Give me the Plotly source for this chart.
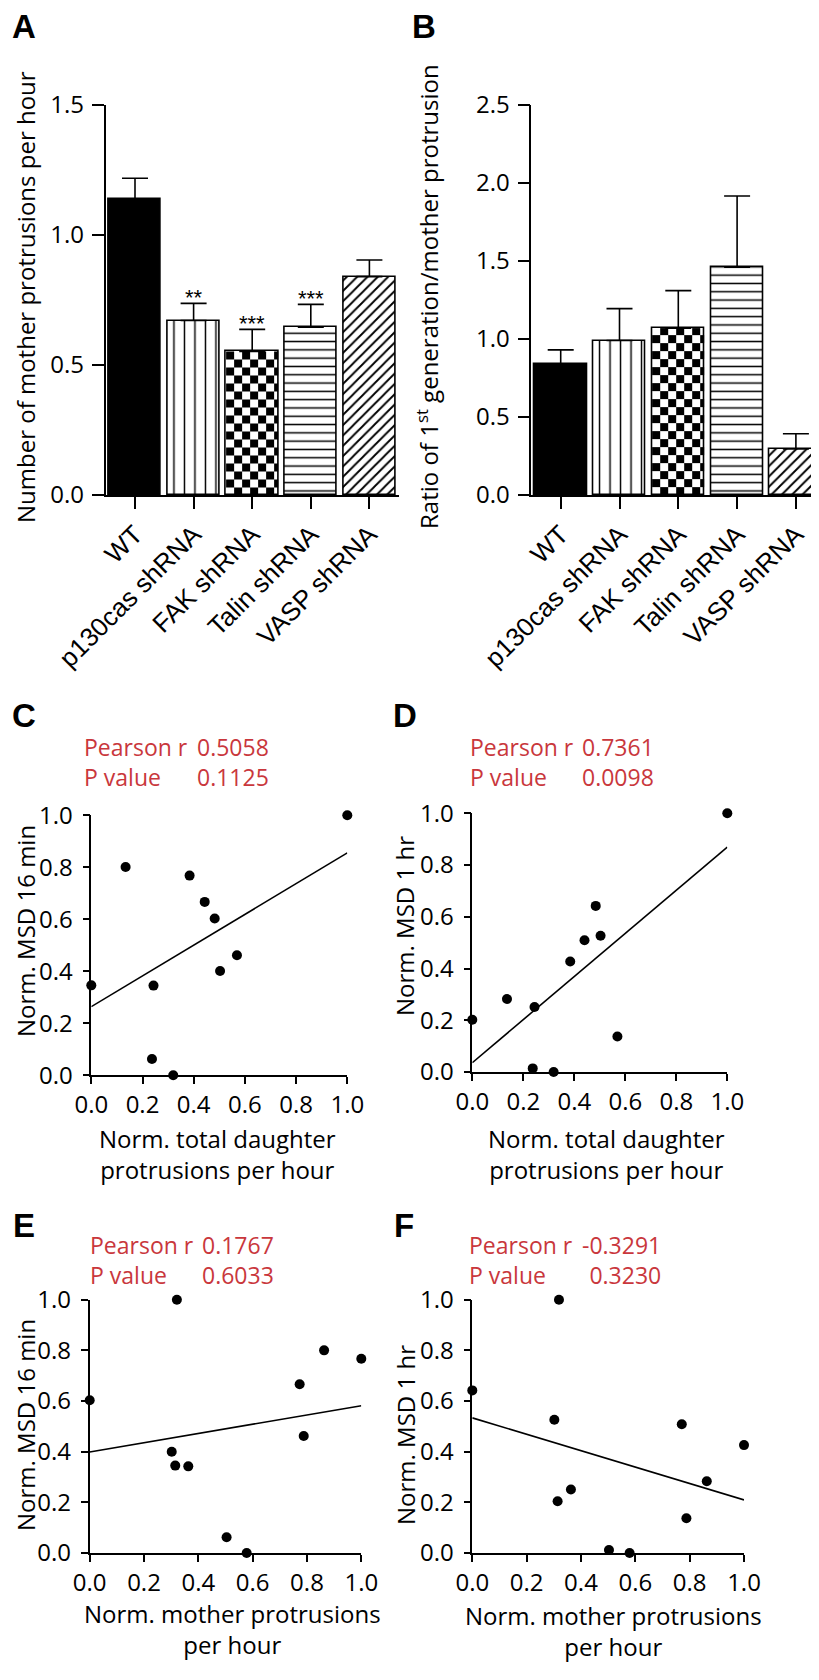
import numpy as np
import plotly.graph_objects as go

W, H = 819, 1680

# ---------------- data ----------------
categories = ["WT", "p130cas shRNA", "FAK shRNA", "Talin shRNA", "VASP shRNA"]
a_mean = [1.137, 0.671, 0.552, 0.645, 0.840]
a_sem = [0.081, 0.066, 0.085, 0.088, 0.064]
a_stars = ["", "**", "***", "***", ""]
b_mean = [0.84, 0.99, 1.07, 1.46, 0.295]
b_sem = [0.09, 0.205, 0.24, 0.457, 0.098]
a_ticks = [0.0, 0.5, 1.0, 1.5]
b_ticks = [0.0, 0.5, 1.0, 1.5, 2.0, 2.5]

c_x = [1.0, 0.134, 0.384, 0.443, 0.482, 0.569, 0.503, 0.0, 0.243, 0.237, 0.320]
c_y = [1.0, 0.801, 0.768, 0.667, 0.603, 0.462, 0.401, 0.346, 0.345, 0.063, 0.0]
d_x = [1.0, 0.484, 0.440, 0.503, 0.384, 0.136, 0.244, 0.0, 0.569, 0.237, 0.319]
d_y = [1.0, 0.642, 0.509, 0.527, 0.427, 0.282, 0.251, 0.202, 0.137, 0.014, 0.0]
e_x = [0.321, 0.863, 1.0, 0.773, 0.0, 0.788, 0.302, 0.315, 0.363, 0.504, 0.578]
e_y = [1.0, 0.800, 0.767, 0.666, 0.603, 0.462, 0.400, 0.345, 0.342, 0.062, 0.0]
f_x = [0.319, 0.0, 0.302, 0.771, 1.0, 0.863, 0.363, 0.314, 0.788, 0.503, 0.579]
f_y = [1.0, 0.642, 0.526, 0.508, 0.426, 0.283, 0.251, 0.204, 0.137, 0.012, 0.0]
scatter_ticks = [0.0, 0.2, 0.4, 0.6, 0.8, 1.0]

stats = {
    "C": ("0.5058", "0.1125"),
    "D": ("0.7361", "0.0098"),
    "E": ("0.1767", "0.6033"),
    "F": ("-0.3291", "0.3230"),
}

# ---------------- style ----------------
TICKFONT = dict(family="Open Sans", size=24, color="black")
CATFONT = dict(family="Liberation Sans", size=26, color="black")
BARTITLEFONT = dict(family="Open Sans", size=24, color="black")
TITLEFONT = dict(family="Open Sans", size=24, color="black")
RED = "#c9373c"
LW = 1.6
BAR_W = 0.89
patterns = ["solid", "|", "checker", "-", "/"]


def px_x(p):
    return p / W


def px_y(p):
    return 1 - p / H


def dom_x(l, r):
    return [l / W, r / W]


def dom_y(t, b):
    return [1 - b / H, 1 - t / H]


fig = go.Figure()
annotations = []
layout = dict(
    width=W, height=H, margin=dict(l=0, r=0, t=0, b=0, pad=0, autoexpand=False),
    plot_bgcolor="white", paper_bgcolor="white", showlegend=False,
    template="none",
)

# panel geometry in pixels: (left, right, top, bottom)
geo = {
    "A": (97.7, 390.7, 97.0, 487.0),
    "B": (523.3, 817.3, 97.0, 487.0),
    "C": (83.3, 339.3, 807.3, 1067.3),
    "D": (464.3, 719.3, 805.3, 1064.0),
    "E": (81.7, 353.3, 1291.7, 1545.0),
    "F": (464.3, 736.0, 1291.7, 1545.0),
}


def bar_panel(n, key, means, sems, ticks, ymax):
    xa, ya = ("x%d" % n if n > 1 else "x"), ("y%d" % n if n > 1 else "y")
    l, r, t, b = geo[key]
    idx = list(range(len(categories)))
    # checkerboard fill for FAK bar (heatmap under a transparent bar)
    px_per_x = (r - l) / len(categories)
    px_per_y = (b - t) / ymax
    cell = 8.0
    for i, pat in enumerate(patterns):
        if pat != "checker":
            continue
        x0, x1 = i - BAR_W / 2, i + BAR_W / 2
        dx = cell / px_per_x
        dy = cell / px_per_y
        xe = list(np.arange(x0, x1, dx)) + [x1]
        ye = list(np.arange(0, means[i], dy)) + [means[i]]
        z = [[(ri + ci) % 2 for ci in range(len(xe) - 1)] for ri in range(len(ye) - 1)]
        fig.add_trace(go.Heatmap(
            x=xe, y=ye, z=z, zmin=0, zmax=1, showscale=False,
            colorscale=[[0, "white"], [1, "black"]], hoverinfo="skip",
            xaxis=xa, yaxis=ya,
        ))
    for i, pat in enumerate(patterns):
        marker = dict(line=dict(color="black", width=LW))
        if pat == "solid":
            marker["color"] = "black"
        elif pat == "checker":
            marker["color"] = "rgba(0,0,0,0)"
        else:
            size, sol = {"|": (10.5, 0.14), "-": (8.3, 0.18), "/": (7.3, 0.26)}[pat]
            marker["color"] = "white"
            marker["pattern"] = dict(shape=pat, size=size, solidity=sol,
                                     fgcolor="black", bgcolor="white", fillmode="replace")
        fig.add_trace(go.Bar(
            x=[idx[i]], y=[means[i]], width=BAR_W, marker=marker,
            error_y=dict(type="data", symmetric=False, array=[sems[i]], arrayminus=[0],
                         color="black", thickness=LW, width=13),
            xaxis=xa, yaxis=ya,
        ))
    layout["xaxis%s" % ("" if n == 1 else n)] = dict(
        domain=dom_x(l, r), anchor=ya, range=[-0.5, len(categories) - 0.5],
        tickmode="array", tickvals=idx, ticktext=categories, tickangle=-45,
        tickfont=CATFONT, ticks="outside", ticklen=12, tickwidth=LW, tickcolor="black",
        showline=True, linecolor="black", linewidth=LW, showgrid=False, zeroline=False,
        automargin=False,
    )
    layout["yaxis%s" % ("" if n == 1 else n)] = dict(
        domain=dom_y(t, b), anchor=xa, range=[0, ymax],
        tickmode="array", tickvals=ticks, tickformat=".1f", tickfont=TICKFONT,
        ticks="outside", ticklen=12, tickwidth=LW, tickcolor="black",
        showline=True, linecolor="black", linewidth=LW, showgrid=False, zeroline=False,
        automargin=False, ticklabelstandoff=3,
    )


def scatter_panel(n, key, xs, ys):
    xa, ya = "x%d" % n, "y%d" % n
    l, r, t, b = geo[key]
    slope, icpt = np.polyfit(xs, ys, 1)
    lx = [min(xs), max(xs)]
    fig.add_trace(go.Scatter(
        x=lx, y=[icpt + slope * v for v in lx], mode="lines",
        line=dict(color="black", width=LW), xaxis=xa, yaxis=ya, cliponaxis=False,
    ))
    fig.add_trace(go.Scatter(
        x=xs, y=ys, mode="markers", marker=dict(color="black", size=10),
        xaxis=xa, yaxis=ya, cliponaxis=False,
    ))
    common = dict(range=[0, 1], tickmode="array", tickvals=scatter_ticks, tickformat=".1f",
                  tickfont=TICKFONT, ticks="outside", ticklen=7, tickwidth=LW,
                  tickcolor="black", showline=True, linecolor="black", linewidth=LW,
                  showgrid=False, zeroline=False, automargin=False)
    layout["xaxis%d" % n] = dict(domain=dom_x(l, r), anchor=ya, **common)
    layout["yaxis%d" % n] = dict(domain=dom_y(t, b), anchor=xa, ticklabelstandoff=5, **common)


bar_panel(1, "A", a_mean, a_sem, a_ticks, 1.5)
bar_panel(2, "B", b_mean, b_sem, b_ticks, 2.5)
scatter_panel(3, "C", c_x, c_y)
scatter_panel(4, "D", d_x, d_y)
scatter_panel(5, "E", e_x, e_y)
scatter_panel(6, "F", f_x, f_y)

# significance stars
for i, s in enumerate(a_stars):
    if s:
        annotations.append(dict(
            x=i, y=a_mean[i] + a_sem[i], xref="x", yref="y", text=s, showarrow=False,
            yanchor="bottom", yshift=-9, font=dict(family="Liberation Sans", size=22, color="black"),
        ))


def ann(text, x, y, angle=0, font=TITLEFONT, xanchor="center", yanchor="middle", align="center"):
    annotations.append(dict(
        text=text, x=px_x(x), y=px_y(y), xref="paper", yref="paper", showarrow=False,
        textangle=angle, font=font, xanchor=xanchor, yanchor=yanchor, align=align,
    ))


# axis titles
ann("Number of mother protrusions per hour", 17, 289, -90, font=BARTITLEFONT)
ann("Ratio of 1<sup>st</sup> generation/mother protrusion", 419, 288, -90, font=BARTITLEFONT)
ann("Norm. MSD 16 min", 17, 923, -90)
ann("Norm. MSD 1 hr", 397, 918, -90)
ann("Norm. MSD 16 min", 17, 1417, -90)
ann("Norm. MSD 1 hr", 397, 1427, -90)
ann("Norm. total daughter<br>protrusions per hour", 210, 1146)
ann("Norm. total daughter<br>protrusions per hour", 598, 1146)
ann("Norm. mother protrusions<br>per hour", 224, 1621)
ann("Norm. mother protrusions<br>per hour", 605, 1623)

# statistics text
redfont = dict(family="Open Sans", size=23, color=RED)
stat_pos = {"C": (74, 263, 754), "D": (460, 648, 754), "E": (80, 268, 1252), "F": (459, 655, 1252)}
for k, (lx, rx, cy) in stat_pos.items():
    r_val, p_val = stats[k]
    ann("Pearson r<br>P value", lx, cy, font=redfont, xanchor="left", align="left")
    ann(r_val + "<br>" + p_val, rx, cy, font=redfont, xanchor="right", align="right")

# panel letters
letterfont = dict(family="Liberation Sans", size=33, color="black")
for text, x, y in [("A", 16, 19), ("B", 416, 19), ("C", 16, 707), ("D", 397, 707),
                   ("E", 16, 1217), ("F", 396, 1217)]:
    annotations.append(dict(text="<b>%s</b>" % text, x=px_x(x), y=px_y(y), xref="paper",
                            yref="paper", showarrow=False, font=letterfont,
                            xanchor="center", yanchor="middle"))

layout["annotations"] = annotations
layout["bargap"] = 0
fig.update_layout(**layout)
fig.write_html("out.html")
